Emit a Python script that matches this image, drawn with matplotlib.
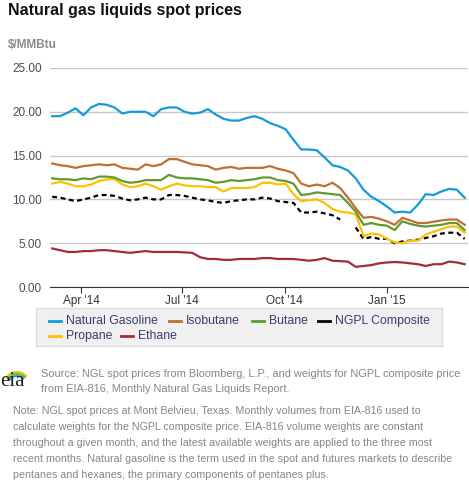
import numpy as np
import pandas as pd
import matplotlib
matplotlib.use('Agg')
import matplotlib.pyplot as plt
from matplotlib.lines import Line2D
from matplotlib.patches import Rectangle, Arc

plt.rcParams['font.family'] = ['Liberation Sans', 'DejaVu Sans']

# weekly readings, Mar 2014 - Mar 2015 ($/MMBtu)
dates = pd.date_range('2014-03-06', periods=54, freq='7D')

natural_gasoline = [19.5, 19.5, 19.9, 20.4, 19.6, 20.5, 20.9, 20.8, 20.5, 19.8,
                    20.0, 20.0, 20.0, 19.5, 20.3, 20.5, 20.5, 20.0, 19.8, 19.9,
                    20.3, 19.7, 19.2, 19.0, 19.0, 19.3, 19.5, 19.2, 18.7, 18.4,
                    18.0, 16.8, 15.7, 15.7, 15.6, 14.8, 13.9, 13.7, 13.3, 12.4,
                    11.1, 10.3, 9.8, 9.2, 8.5, 8.6, 8.5, 9.4, 10.6, 10.5,
                    10.9, 11.2, 11.1, 10.2]
isobutane = [14.1, 13.9, 13.8, 13.6, 13.8, 13.9, 14.0, 13.9, 14.0, 13.6,
             13.5, 13.4, 14.0, 13.8, 14.0, 14.6, 14.6, 14.3, 14.0, 13.9,
             13.8, 13.4, 13.6, 13.7, 13.5, 13.6, 13.6, 13.6, 13.8, 13.5,
             13.3, 13.0, 11.8, 11.5, 11.7, 11.5, 11.9, 11.3, 10.2, 9.0,
             7.9, 8.0, 7.8, 7.5, 7.1, 7.9, 7.6, 7.3, 7.3, 7.45,
             7.6, 7.7, 7.7, 7.1]
butane = [12.4, 12.3, 12.3, 12.2, 12.4, 12.3, 12.6, 12.6, 12.5, 12.1,
          11.9, 12.0, 12.2, 12.2, 12.2, 12.8, 12.5, 12.4, 12.4, 12.3,
          12.2, 11.9, 12.0, 12.2, 12.1, 12.2, 12.3, 12.5, 12.5, 12.2,
          12.1, 11.8, 10.5, 10.6, 10.8, 10.7, 10.6, 10.5, 9.6, 8.6,
          7.1, 7.3, 7.1, 7.0, 6.5, 7.5, 7.2, 7.0, 6.9, 7.0,
          7.1, 7.3, 7.3, 6.5]
ngpl_composite = [10.3, 10.2, 10.0, 9.8, 10.0, 10.2, 10.5, 10.5, 10.4, 10.1,
                  9.9, 10.0, 10.2, 10.0, 10.0, 10.5, 10.5, 10.4, 10.2, 10.0,
                  9.9, 9.7, 9.6, 9.8, 9.9, 10.0, 10.0, 10.2, 10.1, 9.8,
                  9.7, 9.6, 8.5, 8.5, 8.6, 8.4, 8.2, 7.7, np.nan, 6.8,
                  5.5, 5.7, 5.5, 5.5, 5.0, 5.2, 5.3, 5.4, 5.6, 5.8,
                  6.1, 6.2, 6.2, 5.5]
propane = [11.8, 12.0, 11.8, 11.5, 11.5, 11.7, 12.1, 12.3, 12.3, 11.7,
           11.4, 11.5, 11.8, 11.5, 11.1, 11.5, 11.8, 11.6, 11.5, 11.5,
           11.4, 11.4, 10.9, 11.3, 11.3, 11.3, 11.4, 11.9, 11.9, 11.7,
           11.8, 10.6, 9.8, 9.9, 10.0, 9.6, 8.9, 8.6, 8.5, 8.3,
           5.8, 6.1, 6.0, 5.5, 5.1, 5.0, 5.3, 5.3, 6.0, 6.3,
           6.6, 6.9, 6.9, 6.2]
ethane = [4.4, 4.2, 4.0, 4.0, 4.1, 4.1, 4.2, 4.2, 4.1, 4.0,
          3.9, 4.0, 4.1, 4.0, 4.0, 4.0, 4.0, 3.95, 3.9, 3.4,
          3.2, 3.2, 3.1, 3.1, 3.2, 3.2, 3.2, 3.3, 3.3, 3.2,
          3.2, 3.2, 3.1, 3.0, 3.1, 3.3, 3.0, 2.95, 2.9, 2.3,
          2.4, 2.5, 2.7, 2.8, 2.85, 2.8, 2.7, 2.6, 2.4, 2.6,
          2.6, 2.9, 2.8, 2.6]

tick_dates = pd.to_datetime(['2014-04-01', '2014-07-01', '2014-10-01', '2015-01-01'])
tick_labels = ["Apr '14", "Jul '14", "Oct '14", "Jan '15"]

series = [
    ('Natural Gasoline', natural_gasoline, '#159bd7', '-'),
    ('Isobutane', isobutane, '#bf7030', '-'),
    ('Butane', butane, '#5f9b30', '-'),
    ('NGPL Composite', ngpl_composite, '#000000', (0, (2.2, 1.6))),
    ('Propane', propane, '#ffc000', '-'),
    ('Ethane', ethane, '#a32b3b', '-'),
]

fig = plt.figure(figsize=(4.69, 4.82), dpi=100)
ax = fig.add_axes([50 / 469, 1 - 287 / 482, 418 / 469, 219 / 482])

# draw order: bottom to top as in reference
for name, vals, col, ls in [series[5], series[3], series[4], series[2], series[1], series[0]]:
    ax.plot(dates, vals, color=col, linestyle=ls, linewidth=1.6, solid_joinstyle='round')

ax.set_ylim(0, 25)
ax.set_yticks([0, 5, 10, 15, 20, 25])
ax.set_yticklabels(['%.2f' % v for v in [0, 5, 10, 15, 20, 25]])
ax.set_xlim(pd.Timestamp('2014-03-04'), pd.Timestamp('2015-03-15'))
ax.set_xticks(tick_dates)
ax.set_xticklabels(tick_labels)
ax.grid(axis='y', color='#c8c8c8', linewidth=1)
ax.set_axisbelow(True)
for s in ['top', 'right', 'left']:
    ax.spines[s].set_visible(False)
ax.spines['bottom'].set_color('#333333')
ax.tick_params(axis='y', length=0, pad=6, labelsize=8.5, labelcolor='#4a4a5a')
ax.tick_params(axis='x', length=4, color='#333333', labelsize=8.5, labelcolor='#333333', pad=2)

# titles
fig.text(8 / 469, 1 - 10 / 482, 'Natural gas liquids spot prices', fontsize=11.5,
         fontweight='bold', va='center', ha='left', color='#111111')
fig.text(8 / 469, 1 - 45 / 482, '$/MMBtu', fontsize=8.5, fontweight='bold',
         va='center', ha='left', color='#8c8c8c')

# legend box (flow layout like the original)
fig.add_artist(Rectangle((36 / 469, 1 - 346 / 482), 406 / 469, 38 / 482,
                         transform=fig.transFigure, facecolor='#f0f0f0',
                         edgecolor='#dcdcdc', linewidth=1))
leg_items = [
    (series[0], 49, 321), (series[1], 169, 321), (series[2], 252, 321), (series[3], 318, 321),
    (series[4], 49, 336), (series[5], 121, 336),
]
for (name, vals, col, ls), lx, ly in leg_items:
    fy = 1 - ly / 482
    fig.add_artist(Line2D([lx / 469, (lx + 12) / 469], [fy, fy], transform=fig.transFigure,
                          color=col, linewidth=2))
    fig.text((lx + 17) / 469, fy, name, fontsize=8.8, va='center', ha='left', color='#3c3a6e')

# eia logo (rough)
for r, c in [(13, '#f2c200'), (11, '#6bb33f'), (9, '#1a9bd7')]:
    fig.add_artist(Arc((17 / 469, 1 - 385 / 482), 2 * r / 469, 2 * r / 482,
                       theta1=40, theta2=150, transform=fig.transFigure, color=c, linewidth=1.4))
fig.text(0 / 469, 1 - 382 / 482, 'eia', fontsize=15, family='Liberation Serif',
         va='center', ha='left', color='#222222')

gray = '#858585'
fig.text(41 / 469, 1 - 374 / 482,
         'Source: NGL spot prices from Bloomberg, L.P., and weights for NGPL composite price',
         fontsize=7.95, va='center', ha='left', color=gray)
fig.text(41 / 469, 1 - 389 / 482, 'from EIA-816, Monthly Natural Gas Liquids Report.',
         fontsize=7.95, va='center', ha='left', color=gray)

note_lines = [
    'Note: NGL spot prices at Mont Belvieu, Texas. Monthly volumes from EIA-816 used to',
    'calculate weights for the NGPL composite price. EIA-816 volume weights are constant',
    'throughout a given month, and the latest available weights are applied to the three most',
    'recent months. Natural gasoline is the term used in the spot and futures markets to describe',
    'pentanes and hexanes, the primary components of pentanes plus.',
]
for i, line in enumerate(note_lines):
    fig.text(13 / 469, 1 - (411 + i * 16) / 482, line, fontsize=7.65, va='center',
             ha='left', color=gray)

fig.savefig('out.png', dpi=100)
